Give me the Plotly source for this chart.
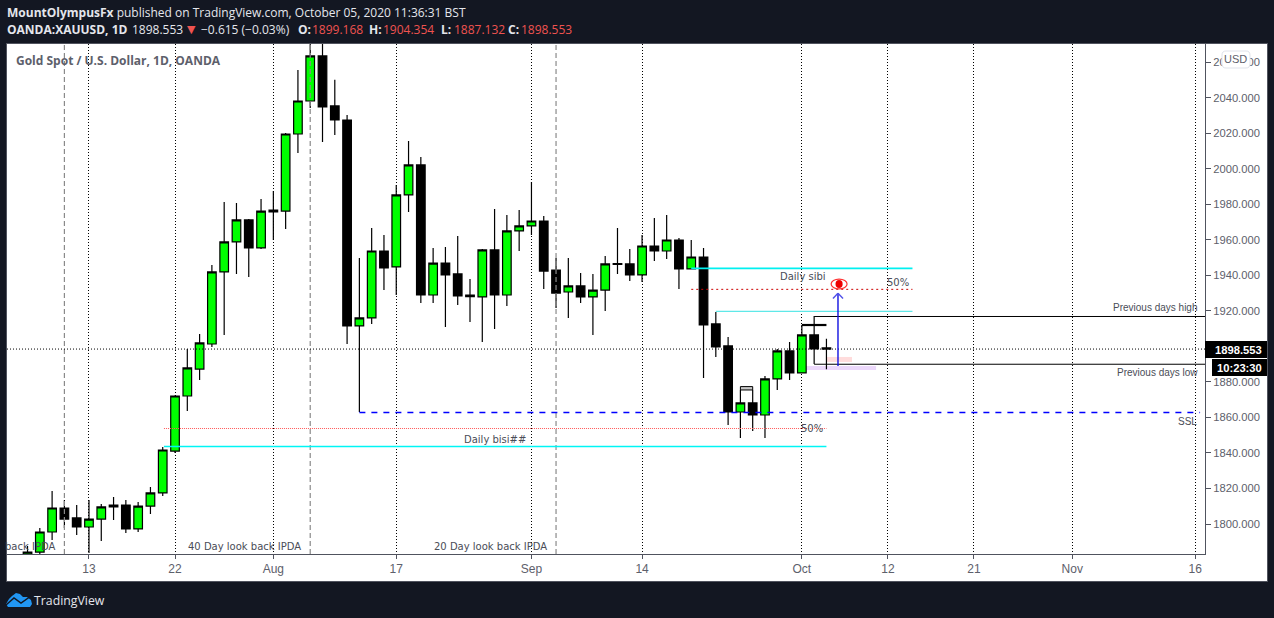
import plotly.graph_objects as go

# ---- data ----
bar_index = list(range(-5, 61))
opens = [1779.0,1784.2,1795.5,1809.0,1803.4,1798.3,1802.8,1809.6,1810.7,1797.2,1810.1,1817.5,
         1841.1,1872.1,1887.3,1901.4,1942.0,1958.9,1971.3,1955.5,1976.8,1976.3,2019.7,2038.3,
         2063.7,2035.5,2027.6,1911.6,1916.1,1953.8,1944.8,1985.4,2002.3,1929.0,1947.0,1940.9,
         1928.9,1927.9,1954.4,1929.0,1965.1,1967.9,1970.7,1943.1,1930.7,1934.1,1927.9,1931.8,
         1946.7,1946.5,1940.3,1956.6,1953.8,1960.0,1943.7,1950.4,1912.7,1900.3,1863.1,1868.2,
         1861.4,1881.7,1897.5,1885.1,1906.5,1899.168]
highs = [1787.6,1797.7,1818.6,1813.5,1810.7,1813.5,1811.3,1815.2,1813.5,1812.4,1820.8,1843.4,
         1872.5,1898.6,1907.0,1945.9,1981.4,1980.9,1971.8,1983.1,1987.6,2020.3,2055.8,2075.0,
         2075.0,2050.2,2030.4,1949.9,1966.8,1962.8,1991.0,2015.8,2006.8,1955.5,1956.1,1962.3,
         1938.0,1954.9,1977.5,1974.1,1976.9,1992.7,1973.5,1949.9,1949.9,1941.4,1940.9,1951.0,
         1966.8,1954.9,1962.8,1972.4,1974.1,1961.1,1960.0,1955.5,1919.4,1905.4,1875.5,1875.5,
         1883.4,1898.6,1902.5,1912.1,1917.2,1904.354]
lows = [1776.0,1783.1,1791.0,1797.7,1793.8,1783.7,1790.4,1802.3,1794.9,1795.5,1805.6,1815.8,
        1840.0,1863.7,1881.1,1899.7,1906.5,1940.9,1939.2,1954.9,1960.0,1966.2,2009.0,2034.4,
        2015.2,2019.2,1901.4,1863.1,1912.7,1931.8,1929.0,1975.8,1924.5,1924.5,1911.0,1923.4,
        1913.8,1902.5,1909.9,1922.8,1953.8,1962.8,1932.4,1921.7,1916.1,1924.5,1906.5,1920.0,
        1940.9,1936.9,1936.3,1948.2,1949.3,1932.4,1943.7,1882.3,1894.1,1855.8,1848.5,1852.4,
        1848.5,1875.5,1881.1,1885.1,1890.1,1887.132]
closes = [1784.2,1795.5,1809.0,1802.8,1798.3,1802.8,1809.6,1810.7,1797.2,1810.1,1817.5,1841.7,
          1872.1,1887.9,1902.0,1942.0,1958.9,1971.3,1955.5,1976.3,1975.8,2019.7,2038.3,2063.7,
          2034.9,2027.6,1911.6,1916.1,1953.8,1944.2,1985.4,2002.3,1929.0,1947.0,1940.3,1928.5,
          1928.1,1954.4,1929.0,1965.1,1967.9,1970.7,1942.5,1930.1,1934.1,1927.9,1931.8,1946.5,
          1946.3,1940.3,1956.6,1953.8,1960.0,1943.7,1950.4,1912.1,1899.7,1863.1,1868.2,1861.4,
          1881.7,1897.5,1885.1,1906.5,1898.6,1898.553]

x_ticks = [0, 7, 15, 25, 36, 45, 58, 65, 72, 80, 90]
x_labels = ["13", "22", "Aug", "17", "Sep", "14", "Oct", "12", "21", "Nov", "16"]
y_ticks = list(range(1800, 2061, 20))
lookback_bars = [-2, 18, 38]

last_price = 1898.553
bisi_high, bisi_mid, ssl = 1843.7, 1853.8, 1862.8
sibi_high, sibi_mid, sibi_low = 1944.0, 1932.2, 1919.8
prev_high, prev_low = 1916.9, 1890.0

# ---- frame geometry ----
W, H = 1274, 618
L, R, T, B = 7, 1205, 44, 554
def px(x): return (x - L) / (R - L)
def py(y): return (B - y) / (B - T)
def path(pts, close=True):
    s = "M " + " L ".join(f"{px(a):.5f},{py(b):.5f}" for a, b in pts)
    return s + (" Z" if close else "")

shapes, anns = [], []
def rect_px(x0, y0, x1, y1, fill, line=None, layer="above", lw=1):
    shapes.append(dict(type="rect", xref="paper", yref="paper", x0=px(x0), x1=px(x1), y0=py(y1), y1=py(y0),
                       fillcolor=fill, line=dict(color=line or fill, width=lw if line else 0), layer=layer))
def label(x, y, text, anchor="left", size=10, color="#4a4d57", family="DejaVu Sans"):
    anns.append(dict(xref="paper", yref="paper", x=px(x), y=py(y), text=text, showarrow=False,
                     xanchor=anchor, yanchor="middle", align=anchor, borderpad=0,
                     font=dict(size=size, color=color, family=family)))
def seg(x0, x1, y0, y1, color, width=1, dash="solid", layer="above"):
    shapes.append(dict(type="line", xref="x", yref="y", x0=x0, x1=x1, y0=y0, y1=y1,
                       line=dict(color=color, width=width, dash=dash), layer=layer))
def box(x0, x1, y0, y1, fill, line=None, layer="above", kind="rect", lw=1):
    shapes.append(dict(type=kind, xref="x", yref="y", x0=x0, x1=x1, y0=y0, y1=y1, fillcolor=fill,
                       line=dict(color=line or fill, width=lw if line else 0), layer=layer))

# white panel
rect_px(6.5, 43.5, 1267.5, 581.5, "#ffffff", "#50535e", layer="below", lw=1)

# look-back verticals
for b in lookback_bars:
    seg(b, b, 1783.1, 2070.4, "#8a8a8a", 1.2, "5px,3px")

# levels
seg(-6.67, 90.8, last_price, last_price, "#000000", 1, "1px,2px")
seg(6.1, 60, bisi_mid, bisi_mid, "#ff5a5a", 1, "1px,1px")
seg(6.1, 60, bisi_high, bisi_high, "#00f5f5", 1.6)
seg(22, 90.4, ssl, ssl, "#0000ff", 1.3, "6px,6px")
seg(49, 67, sibi_high, sibi_high, "#00f0f0", 1.6)
seg(49, 67, sibi_mid, sibi_mid, "#cc0000", 1, "2px,3px")
seg(51, 67, sibi_low, sibi_low, "#5fe8e8", 1.2)
seg(59, 90.8, prev_high, prev_high, "#000000", 1)
seg(59, 90.8, prev_low, prev_low, "#000000", 1)
seg(58, 60, 1912.1, 1912.1, "#000000", 2.2)

# small box over the two candles
box(53, 54, 1875.5, 1877.4, "#c8c8c8", "#000000")

# pink / purple zones
box(60.05, 62.08, 1891.3, 1894.1, "#ffdcdc", layer="below")
box(58.0, 64.04, 1886.8, 1889.0, "#ecd8fb", layer="below")

# arrow
seg(60.94, 60.94, 1889.0, 1930.0, "#1010e0", 1.4)
seg(60.53, 60.94, 1927.0, 1930.0, "#5050e8", 1.4)
seg(61.35, 60.94, 1927.0, 1930.0, "#5050e8", 1.4)

# eye
box(60.38, 61.68, 1932.4, 1938.0, "#ffffff", "#ff3030", kind="circle", lw=1.2)
box(60.74, 61.32, 1933.0, 1937.5, "#ee0000", kind="circle")

# chart labels
label(15, 60.5, "<b>Gold Spot / U.S. Dollar, 1D, OANDA</b>", size=12, color="#5d606b", family="Open Sans")
label(56, 546, "back IPDA", "right")
label(187, 546, "40 Day look back IPDA")
label(433, 546, "20 Day look back IPDA")
label(463, 439, "Daily bisi##")
label(800, 428.5, "50%")
label(779, 276, "Daily sibi")
label(886, 282, "50%")
label(1199, 308, "Previous days high", "right", family="Liberation Sans", size=10)
label(1199, 372.5, "Previous days low", "right", family="Liberation Sans", size=10)
label(1198, 421, "SSL", "right", family="Liberation Sans", size=10)

# price tags
rect_px(1205, 341, 1267, 358, "#000000")
label(1214, 349.5, "<b>1898.553</b>", size=11.2, color="#ffffff", family="Liberation Sans")
rect_px(1212, 359, 1267, 376, "#000000")
label(1216, 367.5, "<b>10:23:30</b>", size=11.2, color="#ffffff", family="Liberation Sans")

# USD pill
r = 4
pill = (f"M {px(1222+r):.5f},{py(51):.5f} L {px(1250-r):.5f},{py(51):.5f} "
        f"Q {px(1250):.5f},{py(51):.5f} {px(1250):.5f},{py(51+r):.5f} "
        f"L {px(1250):.5f},{py(68-r):.5f} Q {px(1250):.5f},{py(68):.5f} {px(1250-r):.5f},{py(68):.5f} "
        f"L {px(1222+r):.5f},{py(68):.5f} Q {px(1222):.5f},{py(68):.5f} {px(1222):.5f},{py(68-r):.5f} "
        f"L {px(1222):.5f},{py(51+r):.5f} Q {px(1222):.5f},{py(51):.5f} {px(1222+r):.5f},{py(51):.5f} Z")
shapes.append(dict(type="path", xref="paper", yref="paper", path=pill, fillcolor="#ffffff",
                   line=dict(color="#e0e3eb", width=1)))
label(1236, 59, "USD", "center", size=11, color="#5d606b", family="Liberation Sans")

# header
RED = "#ef5350"
HEAD = dict(size=12, color="#e4e6ec", family="Open Sans")
label(6, 12, "<b>MountOlympusFx</b> published on TradingView.com, October 05, 2020 11:36:31 BST", **HEAD)
label(6, 29.5, "<b>OANDA:XAUUSD, 1D</b>", **HEAD)
label(131, 29.5, "1898.553", **HEAD)
label(186, 29.5, "▼", size=11, color=RED, family="DejaVu Sans")
label(200, 29.5, "−0.615 (−0.03%)", **HEAD)
for lx, vx, name, value in [(297, 311, "O:", "1899.168"), (368, 382, "H:", "1904.354"),
                            (440, 453, "L:", "1887.132"), (507, 520, "C:", "1898.553")]:
    label(lx, 29.5, f"<b>{name}</b>", **HEAD)
    label(vx, 29.5, value, size=12, color=RED, family="Open Sans")

# footer logo
cloud = [(6,604),(9,599),(12,596),(16,593),(20,594),(23,597),(27,597),(31,600),(32,604),(30,607),(8,607)]
shapes.append(dict(type="path", xref="paper", yref="paper", path=path(cloud), fillcolor="#2196f3", line=dict(width=0)))
shapes.append(dict(type="path", xref="paper", yref="paper",
                   path=path([(6,605),(14,598),(21,603),(31,596)], close=False),
                   fillcolor="rgba(0,0,0,0)", line=dict(color="#131722", width=1.5)))
label(33, 600, "TradingView", size=12.3, color="#e4e6ec", family="Open Sans")

fig = go.Figure(go.Candlestick(
    x=bar_index, open=opens, high=highs, low=lows, close=closes,
    increasing=dict(fillcolor="#00ff00", line=dict(color="#000000", width=1.2)),
    decreasing=dict(fillcolor="#000000", line=dict(color="#000000", width=1.2)),
    whiskerwidth=0, hoverinfo="skip", showlegend=False))

fig.update_layout(
    width=W, height=H, margin=dict(l=L, r=W - R, t=T, b=H - B, pad=0, autoexpand=False),
    paper_bgcolor="#131722", plot_bgcolor="#ffffff", showlegend=False,
    shapes=shapes, annotations=anns, boxgap=0.3, boxgroupgap=0,
    xaxis=dict(range=[-6.67, 90.8], tickmode="array", tickvals=x_ticks, ticktext=x_labels,
               rangeslider=dict(visible=False), showgrid=True, gridcolor="#000000", gridwidth=1,
               griddash="1px,2px", zeroline=False, showline=True, linecolor="#50535e", linewidth=1,
               ticks="outside", ticklen=4, tickcolor="#50535e",
               tickfont=dict(size=12, color="#5d606b", family="Liberation Sans")),
    yaxis=dict(range=[1783.1, 2070.4], side="right", tickmode="array", tickvals=y_ticks,
               tickformat=".3f", showgrid=False, zeroline=False, showline=True, linecolor="#50535e",
               linewidth=1, ticks="outside", ticklen=5, tickcolor="#50535e",
               tickfont=dict(size=11.2, color="#5d606b", family="Liberation Sans")),
)

fig.write_html("out.html", config=dict(displayModeBar=False),
               post_script="document.body.style.margin='0';document.body.style.overflow='hidden';"
                           "document.body.style.background='#131722';")
